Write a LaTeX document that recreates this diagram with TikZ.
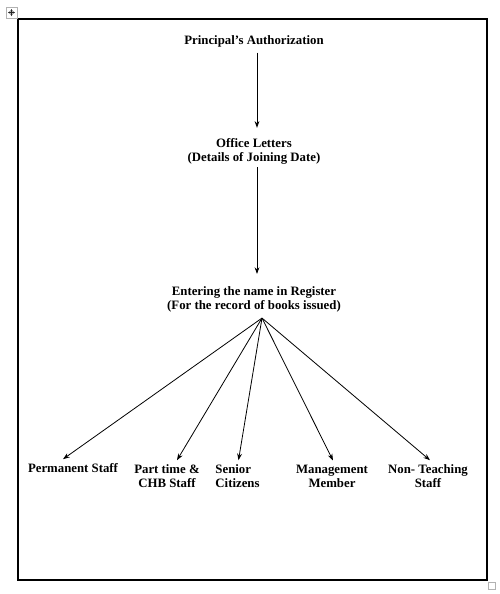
\documentclass[tikz,border=0pt]{standalone}
\usepackage{fontspec}
\setmainfont{Liberation Serif}
\usetikzlibrary{arrows.meta, positioning, calc}

\begin{document}
\begin{tikzpicture}[x=0.75pt, y=-0.75pt, >={Stealth[length=5pt, width=3.6pt]},
    lbl/.style={font=\bfseries\fontsize{9.6}{10.5}\selectfont, align=center, inner sep=0pt},
    flow/.style={->, line width=0.6pt}]
        % ============================================================
        % 1 jedn. = 1 px obrazu (500 x 594), os y w dol
        % ============================================================
        \useasboundingbox (0,0) rectangle (500,594);

        % === RAMKA + UCHWYTY ===
        \draw[line width=1.2pt] (18,19) rectangle (487,580);
        \draw[gray!60, line width=0.6pt] (6,7) rectangle (17,18);
        \draw[<->, >={Stealth[length=1.8pt, width=1.8pt]}, line width=0.4pt, gray!30!black]
            (8,12.5) -- (15,12.5);
        \draw[<->, >={Stealth[length=1.8pt, width=1.8pt]}, line width=0.4pt, gray!30!black]
            (11.5,9) -- (11.5,16);
        \draw[gray!60, line width=0.6pt] (488,582) rectangle (495,589);

        % === ETAPY ===
        \node[lbl] (auth) at (254,41.5) {Principal’s Authorization};
        \node[lbl] (office) at (254,151) {Office Letters\\(Details of Joining Date)};
        \node[lbl] (reg) at (254,299) {Entering the name in Register\\(For the record of books issued)};

        % === KATEGORIE CZYTELNIKOW ===
        \node[lbl] (perm) at (73,468) {Permanent Staff};
        \node[lbl] (part) at (167,476) {Part time \&\\CHB Staff};
        \node[lbl, align=left] (senior) at (237.5,476) {Senior\\Citizens};
        \node[lbl] (mgmt) at (332,476) {Management\\Member};
        \node[lbl] (nonteach) at (428,476) {Non- Teaching\\Staff};

        % === STRZALKI PIONOWE ===
        \draw[flow] ($(auth.south)+(3,5)$) -- ($(office.north)+(3,-10)$);
        \draw[flow] ($(office.south)+(3,3)$) -- ($(reg.north)+(3,-12)$);

        % === WACHLARZ: z rejestru do kategorii ===
        \coordinate (hub) at ($(reg.south)+(8,6)$);
        \foreach \t/\dx in {perm/-10, part/10, senior/1, mgmt/1, nonteach/2} {
            \draw[flow] (hub) -- ($(\t.north)+(\dx,-4)$);
        }

    \end{tikzpicture}
\end{document}
